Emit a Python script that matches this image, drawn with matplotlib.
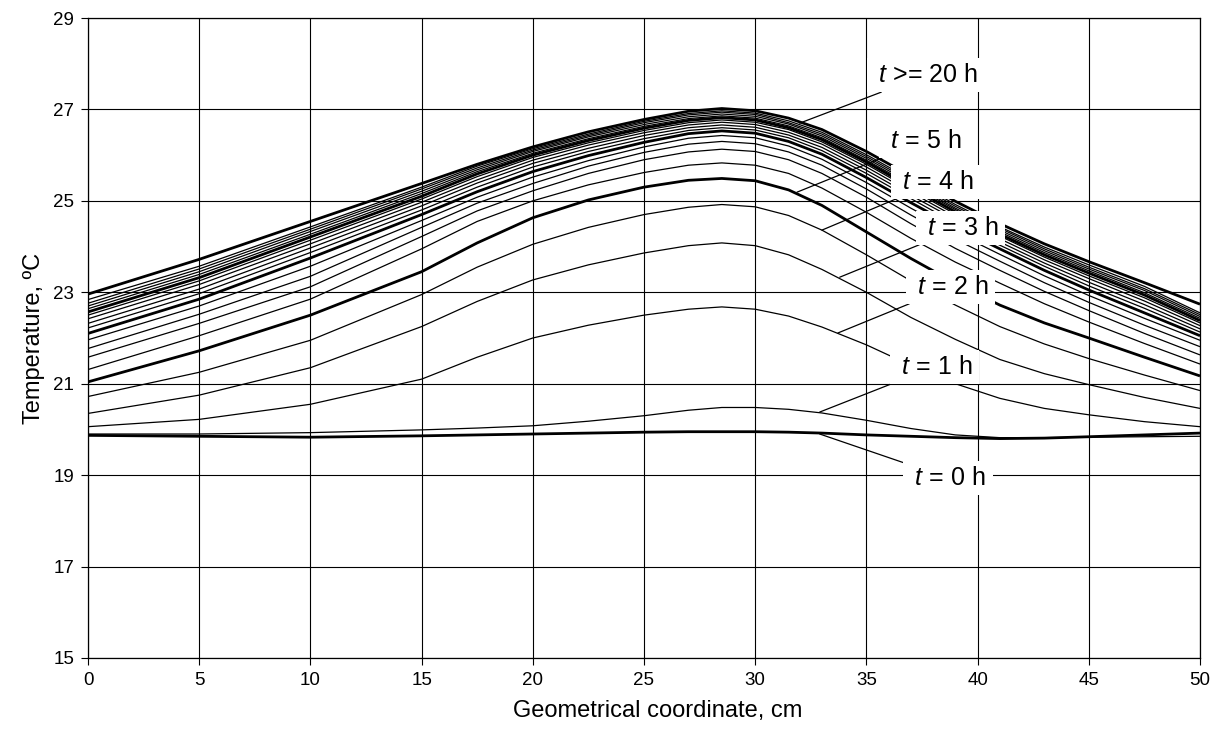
import matplotlib
matplotlib.use("Agg")
import matplotlib.pyplot as plt

plt.rcParams['font.family'] = ['Liberation Sans', 'DejaVu Sans']
plt.rcParams['mathtext.fontset'] = 'custom'
plt.rcParams['mathtext.it'] = 'Liberation Sans:italic'
plt.rcParams['mathtext.rm'] = 'Liberation Sans'

# ---------------- data ----------------
x_cm = [0, 5, 10, 15, 17.5, 20, 22.5, 25, 27, 28.5,
        30, 31.5, 33, 35, 37, 39, 41, 43, 45, 47.5, 50]

t0 = [19.87, 19.85, 19.83, 19.86, 19.88, 19.90, 19.92, 19.94, 19.95, 19.95,
      19.95, 19.94, 19.92, 19.88, 19.85, 19.82, 19.80, 19.81, 19.84, 19.88, 19.92]
t1 = [19.90, 19.90, 19.93, 19.99, 20.03, 20.08, 20.18, 20.30, 20.42, 20.48,
      20.48, 20.44, 20.36, 20.20, 20.02, 19.88, 19.82, 19.82, 19.83, 19.84, 19.85]
t2 = [20.06, 20.22, 20.55, 21.10, 21.58, 22.00, 22.28, 22.50, 22.63, 22.68,
      22.63, 22.48, 22.24, 21.85, 21.40, 21.00, 20.68, 20.46, 20.32, 20.17, 20.06]
t3 = [20.35, 20.75, 21.35, 22.25, 22.80, 23.27, 23.60, 23.86, 24.02, 24.08,
      24.02, 23.82, 23.50, 23.00, 22.45, 21.97, 21.53, 21.22, 20.98, 20.70, 20.46]
t4 = [20.72, 21.25, 21.95, 22.95, 23.55, 24.05, 24.42, 24.70, 24.86, 24.92,
      24.87, 24.68, 24.36, 23.82, 23.25, 22.72, 22.25, 21.87, 21.55, 21.19, 20.85]
t5 = [21.04, 21.72, 22.50, 23.45, 24.08, 24.63, 25.02, 25.30, 25.45, 25.49,
      25.44, 25.24, 24.90, 24.32, 23.74, 23.20, 22.72, 22.33, 22.00, 21.58, 21.17]
t6 = [21.31, 22.05, 22.85, 23.95, 24.55, 25.00, 25.35, 25.62, 25.78, 25.83,
      25.78, 25.60, 25.28, 24.75, 24.18, 23.66, 23.20, 22.75, 22.35, 21.88, 21.43]
t7 = [21.58, 22.32, 23.12, 24.22, 24.78, 25.22, 25.60, 25.90, 26.07, 26.13,
      26.08, 25.90, 25.60, 25.08, 24.50, 23.96, 23.48, 23.02, 22.60, 22.10, 21.63]
t8 = [21.77, 22.52, 23.35, 24.42, 24.95, 25.38, 25.76, 26.06, 26.24, 26.30,
      26.25, 26.07, 25.78, 25.26, 24.69, 24.16, 23.68, 23.21, 22.78, 22.28, 21.81]
t9 = [21.96, 22.70, 23.57, 24.57, 25.08, 25.52, 25.88, 26.18, 26.37, 26.43,
      26.38, 26.20, 25.91, 25.40, 24.84, 24.31, 23.83, 23.36, 22.93, 22.43, 21.95]
t10 = [22.10, 22.85, 23.75, 24.70, 25.20, 25.64, 25.99, 26.28, 26.47, 26.53,
       26.48, 26.30, 26.02, 25.51, 24.96, 24.43, 23.95, 23.48, 23.05, 22.55, 22.05]
t11 = [22.22, 22.97, 23.87, 24.80, 25.30, 25.74, 26.08, 26.36, 26.54, 26.60,
       26.55, 26.38, 26.10, 25.60, 25.05, 24.51, 24.03, 23.57, 23.14, 22.65, 22.13]
t12 = [22.32, 23.07, 23.97, 24.89, 25.39, 25.82, 26.15, 26.43, 26.60, 26.66,
       26.61, 26.44, 26.17, 25.67, 25.12, 24.59, 24.10, 23.64, 23.22, 22.73, 22.20]
t13 = [22.42, 23.17, 24.06, 24.97, 25.46, 25.89, 26.22, 26.49, 26.66, 26.72,
       26.67, 26.50, 26.24, 25.74, 25.19, 24.65, 24.17, 23.71, 23.30, 22.81, 22.27]
t14 = [22.50, 23.25, 24.14, 25.04, 25.53, 25.95, 26.27, 26.54, 26.71, 26.77,
       26.72, 26.56, 26.29, 25.80, 25.25, 24.71, 24.23, 23.77, 23.36, 22.88, 22.33]
t15 = [22.57, 23.32, 24.21, 25.10, 25.59, 26.00, 26.32, 26.59, 26.76, 26.82,
       26.77, 26.60, 26.34, 25.85, 25.30, 24.76, 24.27, 23.82, 23.42, 22.94, 22.38]
t16 = [22.64, 23.39, 24.27, 25.16, 25.64, 26.04, 26.36, 26.63, 26.80, 26.86,
       26.81, 26.64, 26.38, 25.89, 25.35, 24.81, 24.32, 23.87, 23.47, 22.99, 22.43]
t17 = [22.70, 23.45, 24.33, 25.21, 25.68, 26.08, 26.40, 26.67, 26.84, 26.90,
       26.85, 26.68, 26.42, 25.93, 25.39, 24.84, 24.36, 23.91, 23.51, 23.04, 22.47]
t18 = [22.76, 23.51, 24.38, 25.26, 25.72, 26.11, 26.43, 26.71, 26.88, 26.94,
       26.89, 26.71, 26.46, 25.97, 25.43, 24.88, 24.40, 23.95, 23.55, 23.08, 22.51]
t19 = [22.84, 23.57, 24.43, 25.30, 25.76, 26.14, 26.46, 26.74, 26.91, 26.97,
       26.92, 26.75, 26.50, 26.01, 25.47, 24.92, 24.43, 23.99, 23.60, 23.13, 22.55]
t20 = [22.96, 23.72, 24.55, 25.38, 25.80, 26.18, 26.51, 26.78, 26.96, 27.02,
       26.97, 26.81, 26.56, 26.08, 25.54, 24.99, 24.50, 24.06, 23.67, 23.21, 22.74]

curves = [t0, t1, t2, t3, t4, t5, t6, t7, t8, t9, t10,
          t11, t12, t13, t14, t15, t16, t17, t18, t19, t20]
thick_hours = [0, 5, 10, 15, 20]

label_texts = [r" $t$ >= 20 h ", r" $t$ = 5 h ", r" $t$ = 4 h ", r" $t$ = 3 h ",
               r" $t$ = 2 h ", r" $t$ = 1 h ", r" $t$ = 0 h "]

x_ticks = [0, 5, 10, 15, 20, 25, 30, 35, 40, 45, 50]
y_ticks = [15, 17, 19, 21, 23, 25, 27, 29]

# ---------------- layout (positions, not data) ----------------
# (text centre, point on curve) in data coordinates
label_layout = [
    ((37.68, 27.75), (32.0, 26.70)),
    ((37.59, 26.31), (31.88, 25.19)),
    ((38.13, 25.41), (33.0, 24.36)),
    ((39.25, 24.41), (33.8, 23.33)),
    ((38.80, 23.12), (33.72, 22.11)),
    ((38.08, 21.37), (32.9, 20.38)),
    ((38.67, 18.94), (32.9, 19.90)),
]

fig = plt.figure(figsize=(12.19, 7.42), dpi=100)
ax = fig.add_axes([88 / 1219, 1 - 658 / 742, 1112 / 1219, 640 / 742])

for h, ys in enumerate(curves):
    lw = 2.0 if h in thick_hours else 0.9
    ax.plot(x_cm, ys, color='black', lw=lw, solid_joinstyle='round',
            solid_capstyle='butt', zorder=3)

ax.set_xlim(0, 50)
ax.set_ylim(15, 29)
ax.set_xticks(x_ticks)
ax.set_yticks(y_ticks)
ax.grid(True, color='black', lw=0.8, zorder=1)
ax.set_axisbelow(True)
for sp in ax.spines.values():
    sp.set_linewidth(0.9)
    sp.set_color('black')
ax.tick_params(axis='both', direction='out', length=5, width=0.8,
               labelsize=13.5, color='black', pad=5)

ax.set_xlabel("Geometrical coordinate, cm", fontsize=17)
ax.xaxis.set_label_coords((658 - 88) / 1112, -0.066)
ax.set_ylabel("Temperature, ºC", fontsize=17, labelpad=6)

for txt, (tpos, cpos) in zip(label_texts, label_layout):
    ax.annotate(txt, xy=cpos, xytext=tpos, textcoords='data',
                ha='center', va='center', fontsize=18, zorder=10,
                bbox=dict(boxstyle='square,pad=0.2', fc='white', ec='none'),
                arrowprops=dict(arrowstyle='-', color='black', lw=0.9,
                                shrinkA=0, shrinkB=0))

fig.savefig("out.png", dpi=100)
